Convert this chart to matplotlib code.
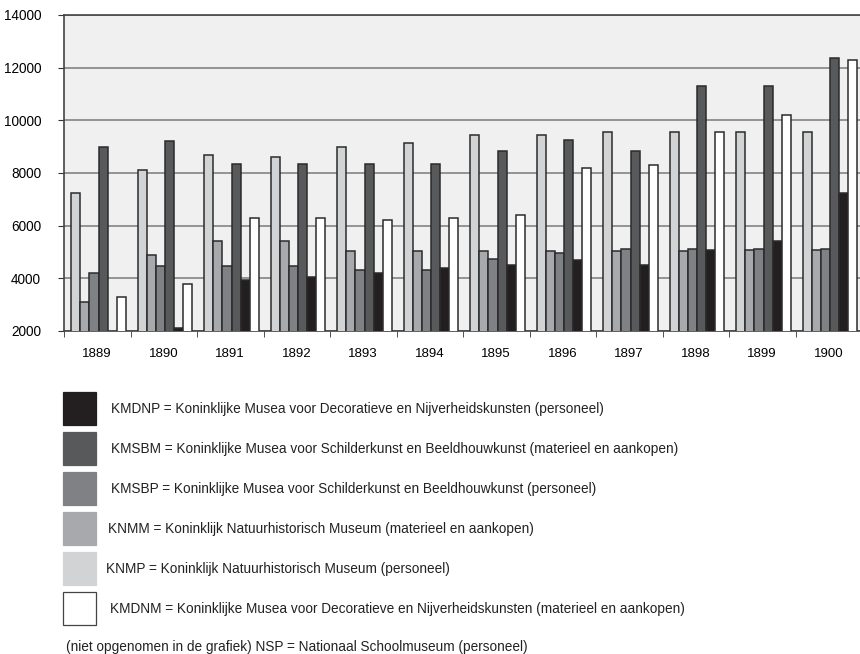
import matplotlib
matplotlib.use("Agg")
import matplotlib.pyplot as plt
import numpy as np
from matplotlib.patches import Rectangle

plt.rcParams["font.family"] = ["Liberation Sans", "DejaVu Sans"]

YEARS = ["1889", "1890", "1891", "1892", "1893", "1894",
         "1895", "1896", "1897", "1898", "1899", "1900"]

# series in drawing order inside each year group
KNMP  = [7250, 8100, 8700, 8600, 9000, 9150, 9450, 9450, 9550, 9550, 9550, 9550]
KNMM  = [3100, 4900, 5400, 5400, 5050, 5050, 5050, 5050, 5050, 5050, 5080, 5080]
KMSBP = [4200, 4450, 4450, 4450, 4300, 4300, 4750, 4950, 5100, 5100, 5130, 5130]
KMSBM = [9000, 9200, 8350, 8350, 8350, 8350, 8850, 9250, 8850, 11300, 11300, 12350]
KMDNP = [0, 2100, 3920, 4050, 4200, 4400, 4500, 4700, 4500, 5080, 5400, 7250]
KMDNM = [3300, 3800, 6300, 6300, 6200, 6280, 6400, 8200, 8300, 9550, 10200, 12300]

SERIES = [
    (KNMP,  "#d1d3d4"),
    (KNMM,  "#a7a9ac"),
    (KMSBP, "#808184"),
    (KMSBM, "#58595b"),
    (KMDNP, "#231f20"),
    (KMDNM, "#ffffff"),
]

LEGEND = [
    ("#231f20", "KMDNP = Koninklijke Musea voor Decoratieve en Nijverheidskunsten (personeel)"),
    ("#58595b", "KMSBM = Koninklijke Musea voor Schilderkunst en Beeldhouwkunst (materieel en aankopen)"),
    ("#808184", "KMSBP = Koninklijke Musea voor Schilderkunst en Beeldhouwkunst (personeel)"),
    ("#a7a9ac", "KNMM = Koninklijk Natuurhistorisch Museum (materieel en aankopen)"),
    ("#d1d3d4", "KNMP = Koninklijk Natuurhistorisch Museum (personeel)"),
    ("#ffffff", "KMDNM = Koninklijke Musea voor Decoratieve en Nijverheidskunsten (materieel en aankopen)"),
]
LEGEND_X = [111, 111, 111, 108, 106, 110]
FOOTNOTE = "(niet opgenomen in de grafiek) NSP = Nationaal Schoolmuseum (personeel)"

W, H = 860, 654
fig = plt.figure(figsize=(W / 100, H / 100), dpi=100)
ax = fig.add_axes([64 / W, 1 - 331 / H, 798 / W, 316 / H])
ax.set_facecolor("#f0f0f0")

x = np.arange(len(YEARS))
bw = 0.137
offs = (np.arange(len(SERIES)) - 2.5) * bw + 0.02
for (vals, col), off in zip(SERIES, offs):
    ax.bar(x + off, vals, width=bw, color=col, edgecolor="#2b2b2b",
           linewidth=1.1, zorder=3)

ax.set_xlim(-0.5, len(YEARS) - 0.5)
ax.set_ylim(2000, 14000)
ax.set_yticks(range(2000, 14001, 2000))
ax.grid(axis="y", color="#7a7a7a", lw=1.1, zorder=0)
ax.set_xticks(x)
ax.set_xticklabels(YEARS, fontsize=9.5)
ax.set_xticks(np.arange(-0.5, len(YEARS), 1.0), minor=True)
ax.tick_params(axis="x", which="major", length=0, pad=12)
ax.tick_params(axis="x", which="minor", length=4, color="#333333", direction="out")
ax.tick_params(axis="y", length=4, color="#333333", labelsize=9.8, pad=12.5)
for s in ["top", "left", "bottom"]:
    ax.spines[s].set_color("#444444")
    ax.spines[s].set_linewidth(1.2)
ax.spines["right"].set_visible(False)

# legend drawn as boxes + text below the axes
for i, ((col, label), tx) in enumerate(zip(LEGEND, LEGEND_X)):
    y0 = 392 + i * 40
    fig.patches.append(Rectangle((63 / W, 1 - (y0 + 33) / H), 33 / W, 33 / H,
                                 transform=fig.transFigure, facecolor=col,
                                 edgecolor="#444444" if col == "#ffffff" else col,
                                 linewidth=0.9))
    fig.text(tx / W, 1 - (y0 + 17) / H, label, fontsize=9.8, va="center", ha="left",
             color="#222222")
fig.text(66 / W, 1 - 647 / H, FOOTNOTE, fontsize=9.8, va="center", ha="left",
         color="#222222")

fig.savefig("out.png", dpi=100)
